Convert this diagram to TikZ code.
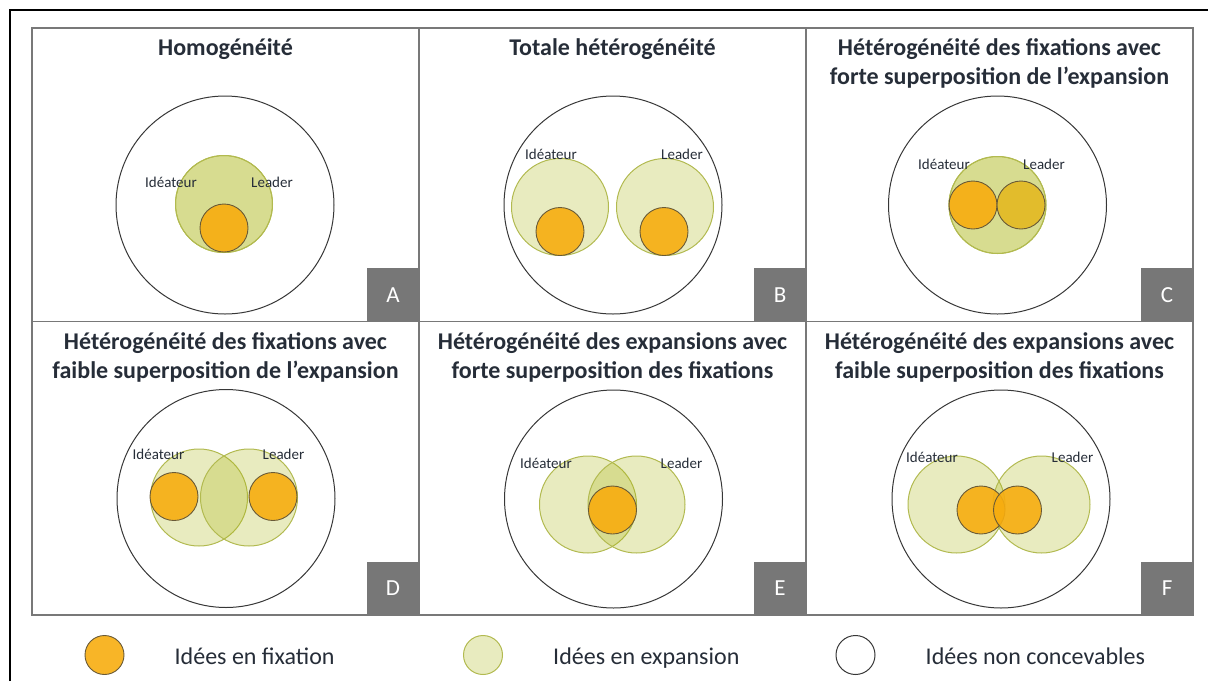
\documentclass[tikz,border=0pt]{standalone}
\usepackage{fontspec}
\setmainfont{Carlito}
\usetikzlibrary{positioning}

\definecolor{panelgray}{RGB}{120,120,120}
\definecolor{boxgray}{RGB}{119,119,119}
\definecolor{ringgray}{RGB}{55,55,55}
\definecolor{expfill}{RGB}{170,181,18}
\definecolor{expdraw}{RGB}{178,186,80}
\definecolor{fixfill}{RGB}{247,173,15}
\definecolor{fixdraw}{RGB}{105,90,55}
\definecolor{mustard}{RGB}{226,188,44}
\definecolor{txt}{RGB}{38,45,56}

\begin{document}
\begin{tikzpicture}[x=1pt, y=-1pt,
  panel/.style={draw=panelgray, line width=1.5pt, minimum width=387pt, minimum height=293.5pt, inner sep=0},
  titre/.style={font=\fontsize{24}{29}\selectfont\bfseries, text=txt, align=center, anchor=base, inner sep=0},
  univers/.style={circle, draw=ringgray, line width=1pt, minimum size=218pt, inner sep=0},
  expansion/.style={circle, draw=expdraw, line width=1pt, fill=expfill, fill opacity=0.27, minimum size=97pt, inner sep=0},
  fixation/.style={circle, draw=fixdraw, line width=0.9pt, fill=fixfill, fill opacity=0.9, minimum size=48pt, inner sep=0},
  role/.style={font=\fontsize{15}{18}\selectfont, text=txt, anchor=base, inner sep=0},
  lettre/.style={fill=boxgray, text=white, font=\fontsize{23}{26}\selectfont, minimum width=53pt, minimum height=54pt, anchor=south east, inner sep=0},
  legende/.style={font=\fontsize{24}{28}\selectfont, text=txt, inner sep=0}]
  \useasboundingbox (0,0) rectangle (1208,681);
  \draw [line width=2pt] (10,681) -- (10,10) -- (1208,10);

  % panels
  \node (pA) [panel] at (225.5,174.75) {};
  \node (pB) [panel] at (612.5,174.75) {};
  \node (pC) [panel] at (999.5,174.75) {};
  \node (pD) [panel] at (225.5,468.25) {};
  \node (pE) [panel] at (612.5,468.25) {};
  \node (pF) [panel] at (999.5,468.25) {};

  \node (lA) [lettre] at (pA.south east) {A};
  \node (lB) [lettre] at (pB.south east) {B};
  \node (lC) [lettre] at (pC.south east) {C};
  \node (lD) [lettre] at (pD.south east) {D};
  \node (lE) [lettre] at (pE.south east) {E};
  \node (lF) [lettre] at (pF.south east) {F};

  % titles (base = last line)
  \node (tA) [titre] at ([yshift=-28pt]pA.north) {Homogénéité};
  \node (tB) [titre] at ([yshift=-28pt]pB.north) {Totale hétérogénéité};
  \node (tC) [titre] at ([yshift=-57pt]pC.north) {Hétérogénéité des fixations avec\\forte superposition de l’expansion};
  \node (tD) [titre] at ([yshift=-58pt]pD.north) {Hétérogénéité des fixations avec\\faible superposition de l’expansion};
  \node (tE) [titre] at ([yshift=-58pt]pE.north) {Hétérogénéité des expansions avec\\forte superposition des fixations};
  \node (tF) [titre] at ([yshift=-58pt]pF.north) {Hétérogénéité des expansions avec\\faible superposition des fixations};

  % A
  \node (uA) [univers] at (225,205) {};
  \node (eA1) [expansion] at (224,204) {};
  \node (eA2) [expansion] at (224,204) {};
  \node (fA) [fixation] at (224,228) {};
  \node (iA) [role] at (171,187.5) {Idéateur};
  \node (rA) [role] at (272,187.5) {Leader};

  % B
  \node (uB) [univers] at (613,205) {};
  \node (eB1) [expansion] at (560,207) {};
  \node (eB2) [expansion] at (665,207) {};
  \node (fB1) [fixation] at (560,231.5) {};
  \node (fB2) [fixation] at (664,231.5) {};
  \node (iB) [role] at (551,159) {Idéateur};
  \node (rB) [role] at (682,159) {Leader};

  % C
  \node (uC) [univers] at (997.5,205) {};
  \node (eC1) [expansion] at (997.5,205) {};
  \node (eC2) [expansion] at (997.5,205) {};
  \node (fC1) [fixation] at (973,205) {};
  \node (fC2) [fixation, fill=mustard, fill opacity=1] at (1021,205) {};
  \node (iC) [role] at (944,169.5) {Idéateur};
  \node (rC) [role] at (1044,169.5) {Leader};

  % D
  \node (uD) [univers] at (226,498.5) {};
  \node (eD1) [expansion] at (199,497.5) {};
  \node (eD2) [expansion] at (249,497.5) {};
  \node (fD1) [fixation] at (174,496.5) {};
  \node (fD2) [fixation] at (273,496.5) {};
  \node (iD) [role] at (158.5,459) {Idéateur};
  \node (rD) [role] at (283.5,459) {Leader};

  % E
  \node (uE) [univers] at (613.5,499) {};
  \node (eE1) [expansion] at (588,504.5) {};
  \node (eE2) [expansion] at (636.5,504.5) {};
  \node (fE) [fixation] at (612.5,510) {};
  \node (iE) [role] at (546,468) {Idéateur};
  \node (rE) [role] at (681.5,468) {Leader};

  % F
  \node (uF) [univers] at (1001,499) {};
  \node (eF1) [expansion] at (956.5,504.5) {};
  \node (eF2) [expansion] at (1041.5,504.5) {};
  \node (fF1) [fixation] at (981,510) {};
  \node (fF2) [fixation] at (1017.5,510) {};
  \node (iF) [role] at (932,462.5) {Idéateur};
  \node (rF) [role] at (1072.5,462.5) {Leader};

  % legend
  \node (lgFix) [fixation, minimum size=39pt] at (104.5,655) {};
  \node (lgExp) [expansion, minimum size=39pt] at (483,655) {};
  \node (lgNon) [univers, minimum size=39pt] at (855.5,655) {};
  \node (lgFixT) [legende, base right=50pt of lgFix, yshift=-9pt] {Idées en fixation};
  \node (lgExpT) [legende, base right=50pt of lgExp, yshift=-9pt] {Idées en expansion};
  \node (lgNonT) [legende, base right=50pt of lgNon, yshift=-9pt] {Idées non concevables};
\end{tikzpicture}
\end{document}
